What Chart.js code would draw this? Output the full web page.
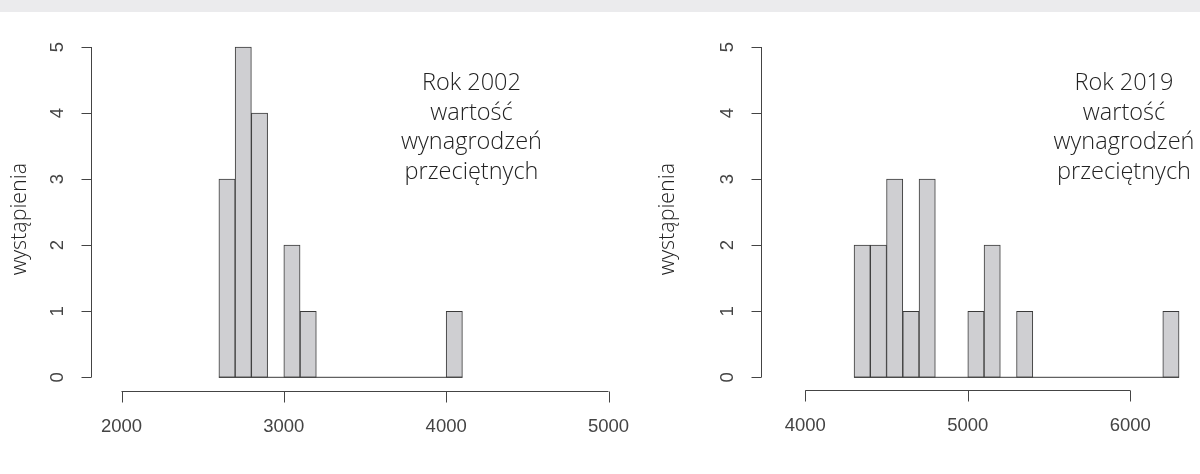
<!DOCTYPE html>
<html>
<head>
<meta charset="utf-8">
<script src="https://cdn.jsdelivr.net/npm/chart.js@4.4.1/dist/chart.umd.min.js"></script>
<style>
  body { margin: 0; background: #fff; width: 1200px; height: 474px; overflow: hidden; position: relative; }
  #band { position: absolute; left: 0; top: 0; width: 1200px; height: 12px; background: #ebebed; }
  canvas { position: absolute; top: 0; }
  #h2002 { left: 0; }
  #h2019 { left: 640px; }
</style>
</head>
<body>
<div id="band"></div>
<canvas id="h2002" width="640" height="474"></canvas>
<canvas id="h2019" width="560" height="474"></canvas>
<script>
// szerokość przedziału histogramu
const binWidth = 100;

// Rok 2002 - początki przedziałów i liczby województw
const bins2002 = [2600, 2700, 2800, 2900, 3000, 3100, 3200, 3300, 3400, 3500, 3600, 3700, 3800, 3900, 4000];
const counts2002 = [3, 5, 4, 0, 2, 1, 0, 0, 0, 0, 0, 0, 0, 0, 1];

// Rok 2019
const bins2019 = [4300, 4400, 4500, 4600, 4700, 4800, 4900, 5000, 5100, 5200, 5300, 5400, 5500, 5600, 5700, 5800, 5900, 6000, 6100, 6200];
const counts2019 = [2, 2, 3, 1, 3, 0, 0, 1, 2, 0, 1, 0, 0, 0, 0, 0, 0, 0, 0, 1];

const xTicks2002 = [2000, 3000, 4000, 5000];
const xTicks2019 = [4000, 5000, 6000];
const yTicks = [0, 1, 2, 3, 4, 5];

const yLabel = "wystąpienia";
const note2002 = ["Rok 2002", "wartość", "wynagrodzeń", "przeciętnych"];
const note2019 = ["Rok 2019", "wartość", "wynagrodzeń", "przeciętnych"];

const ink = "#3a3a3a";

// osie w stylu R rysowane na skalach Chart.js
const rAxes = {
  id: "rAxes",
  afterDatasetsDraw(chart, args, o) {
    const { ctx, scales: { x, y }, chartArea } = chart;
    ctx.save();
    ctx.strokeStyle = "#444";
    ctx.lineWidth = 1;

    // oś Y
    const ax = Math.round(chartArea.left - o.yGap) + 0.5;
    ctx.beginPath();
    ctx.moveTo(ax, y.getPixelForValue(yTicks[0]));
    ctx.lineTo(ax, y.getPixelForValue(yTicks[yTicks.length - 1]));
    yTicks.forEach(t => {
      const py = Math.round(y.getPixelForValue(t)) + 0.5;
      ctx.moveTo(ax, py);
      ctx.lineTo(ax - 10, py);
    });
    ctx.stroke();

    ctx.fillStyle = "#444";
    ctx.font = "18.5px 'Liberation Sans', Arial, sans-serif";
    ctx.textAlign = "center";
    ctx.textBaseline = "middle";
    yTicks.forEach(t => {
      ctx.save();
      ctx.translate(ax - 34, y.getPixelForValue(t));
      ctx.rotate(-Math.PI / 2);
      ctx.fillText(String(t), 0, 0);
      ctx.restore();
    });

    // oś X
    const ay = Math.round(chartArea.bottom + o.xGap) + 0.5;
    ctx.beginPath();
    ctx.moveTo(x.getPixelForValue(o.xTicks[0]), ay);
    ctx.lineTo(x.getPixelForValue(o.xTicks[o.xTicks.length - 1]), ay);
    o.xTicks.forEach(t => {
      const px = Math.round(x.getPixelForValue(t)) + 0.5;
      ctx.moveTo(px, ay);
      ctx.lineTo(px, ay + 11);
    });
    ctx.stroke();
    o.xTicks.forEach(t => {
      ctx.fillText(String(t), x.getPixelForValue(t), ay + 35);
    });

    // podpis osi Y
    ctx.fillStyle = "#222";
    ctx.font = "300 21.5px 'Open Sans', sans-serif";
    ctx.save();
    ctx.translate(ax - o.labelGap, (chartArea.top + chartArea.bottom) / 2 + 7);
    ctx.rotate(-Math.PI / 2);
    ctx.fillText(yLabel, 0, 0);
    ctx.restore();

    // opis w rogu
    ctx.font = "300 23.5px 'Open Sans', sans-serif";
    ctx.textBaseline = "alphabetic";
    o.note.forEach((line, i) => {
      ctx.fillText(line, o.noteX, 90 + i * 29.5);
    });
    ctx.restore();
  }
};

function histogram(id, bins, counts, cfg) {
  const pts = bins.map((b, i) => ({ x: b + binWidth / 2, y: counts[i] }));
  const last = bins[bins.length - 1] + binWidth;
  new Chart(document.getElementById(id), {
    type: "bar",
    data: {
      datasets: [
        {
          type: "line",
          data: [{ x: bins[0], y: 0 }, { x: last, y: 0 }],
          borderColor: ink,
          borderWidth: 1,
          pointRadius: 0,
          clip: false,
        },
        {
          data: pts,
          backgroundColor: "#cfcfd2",
          borderColor: ink,
          borderWidth: 1,
          borderSkipped: false,
          barPercentage: 1,
          categoryPercentage: 1,
          clip: false,
        },
      ],
    },
    options: {
      responsive: false,
      animation: false,
      devicePixelRatio: 1,
      layout: { padding: cfg.padding },
      scales: {
        x: { type: "linear", min: cfg.xMin, max: cfg.xMax, offset: false, display: false },
        y: { min: 0, max: 5, display: false },
      },
      plugins: {
        legend: { display: false },
        tooltip: { enabled: false },
        rAxes: cfg.axes,
      },
    },
    plugins: [rAxes],
  });
}

histogram("h2002", bins2002, counts2002, {
  xMin: 2000, xMax: 5000,
  padding: { left: 121.5, right: 31.5, top: 47, bottom: 96.7 },
  axes: { yGap: 30.5, xGap: 13.4, labelGap: 72, xTicks: xTicks2002, note: note2002, noteX: 471.5 },
});

histogram("h2019", bins2019, counts2019, {
  xMin: 4000, xMax: 6400,
  padding: { left: 165.3, right: 4.7, top: 47, bottom: 96.7 },
  axes: { yGap: 44.3, xGap: 12.7, labelGap: 94, xTicks: xTicks2019, note: note2019, noteX: 484 },
});
</script>
</body>
</html>
